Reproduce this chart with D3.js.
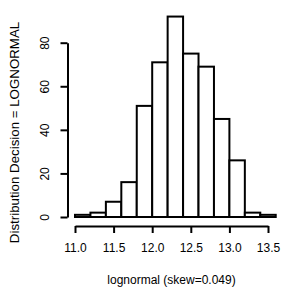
<!DOCTYPE html>
<html>
<head>
<meta charset="utf-8">
<script src="https://cdn.jsdelivr.net/npm/d3@7"></script>
<style>
  body { margin: 0; background: #fff; }
  text { font-family: "Liberation Sans", Arial, sans-serif; fill: #000; }
</style>
</head>
<body>
<div id="chart"></div>
<script>
// Histogram bins (lower edges) and counts
const binStarts = [11.0, 11.2, 11.4, 11.6, 11.8, 12.0, 12.2, 12.4, 12.6, 12.8, 13.0, 13.2, 13.4];
const binWidth = 0.2;
const counts = [1, 2, 7, 16, 51, 71, 92, 75, 69, 45, 26, 2, 1];
const xTicks = [11.0, 11.5, 12.0, 12.5, 13.0, 13.5];
const yTicks = [0, 20, 40, 60, 80];
const xTitle = 'lognormal (skew=0.049)';
const yTitle = 'Distribution Decision = LOGNORMAL';

const width = 283, height = 288;

const svg = d3.select('#chart').append('svg')
  .attr('width', width)
  .attr('height', height);

const x = d3.scaleLinear().domain([11.0, 13.5]).range([75, 268]);
const y = d3.scaleLinear().domain([0, 80]).range([217, 42.7]);

// Bars
svg.append('g')
  .selectAll('rect')
  .data(binStarts)
  .enter()
  .append('rect')
  .attr('x', d => x(d))
  .attr('width', d => x(d + binWidth) - x(d))
  .attr('y', (d, i) => y(counts[i]))
  .attr('height', (d, i) => y(0) - y(counts[i]))
  .attr('fill', '#fff')
  .attr('stroke', '#000')
  .attr('stroke-width', 2);

// Y axis
const yAxis = svg.append('g')
  .attr('transform', 'translate(67.5,0)')
  .call(d3.axisLeft(y).tickValues(yTicks).tickSize(7).tickSizeOuter(0));
yAxis.select('.domain').attr('stroke-width', 2);
yAxis.selectAll('.tick line').attr('stroke-width', 2);
yAxis.selectAll('.tick text')
  .attr('font-size', 12)
  .attr('x', 0)
  .attr('dy', 0)
  .attr('text-anchor', 'middle')
  .attr('transform', 'translate(-22.5,0) rotate(-90)')
  .attr('dominant-baseline', 'central');

// X axis
const xAxis = svg.append('g')
  .attr('transform', 'translate(0,226)')
  .call(d3.axisBottom(x).tickValues(xTicks).tickFormat(d3.format('.1f')).tickSize(7).tickSizeOuter(0));
xAxis.select('.domain').attr('stroke-width', 2);
xAxis.selectAll('.tick line').attr('stroke-width', 2);
xAxis.selectAll('.tick text')
  .attr('font-size', 12)
  .attr('y', 21.5)
  .attr('dy', 0)
  .attr('dominant-baseline', 'central');

// Titles
svg.append('text')
  .attr('x', x(12.25))
  .attr('y', 283.5)
  .attr('text-anchor', 'middle')
  .attr('font-size', 12)
  .text(xTitle);

svg.append('text')
  .attr('transform', 'translate(14.5,132.5) rotate(-90)')
  .attr('text-anchor', 'middle')
  .attr('dominant-baseline', 'central')
  .attr('font-size', 13.3)
  .text(yTitle);
</script>
</body>
</html>
